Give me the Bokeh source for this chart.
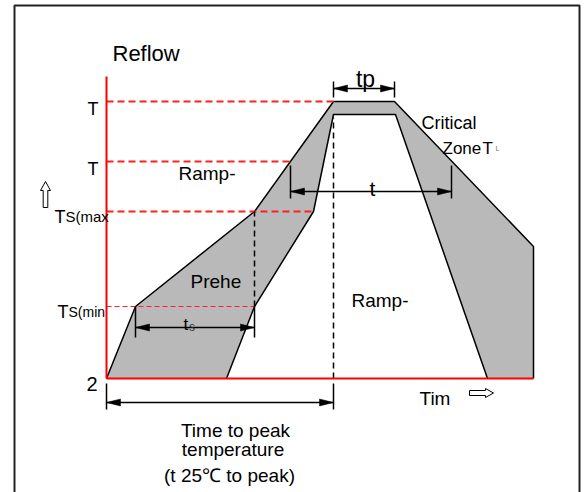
from bokeh.plotting import figure
from bokeh.models import Range1d
from bokeh.core.properties import value
from bokeh.embed import file_html
from bokeh.resources import INLINE

# ---- schematic data: time (x) and temperature above 25C (y) ----
T_peak = 277
T_peak_inner = 264
T_L = 217
Ts_max = 167
Ts_min = 72
time_end = 427
temp_top = 302

outer_time = [0, 29, 148, 227, 288, 427, 427]
outer_temp = [0, Ts_min, Ts_max, T_peak, T_peak, 132, 0]
inner_time = [120, 148, 207, 227, 289, 381]
inner_temp = [0, Ts_min, Ts_max, T_peak_inner, T_peak_inner, 0]

# red dashed temperature levels and where they stop
level_temps = [T_peak, T_L, Ts_max]
level_ends = [227, 184, 207]
tsmin_end = 148

# black dashed verticals
vdash_x = [148, 227]
vdash_y0 = [Ts_min, 0]
vdash_y1 = [Ts_max, T_peak_inner - 3]

# dimension arrows: start, end, level, tick bottom, tick top
dim_names = ["tp", "t", "ts", "time_to_peak"]
dim_x0 = [227, 184, 29, 0]
dim_x1 = [288, 345, 148, 227]
dim_y = [290, 187, 51, -24]
dim_tick_lo = [281, 180, 41, -31]
dim_tick_hi = [297, 213, 72, -5]

# hollow arrows (axis direction hints)
up_arrow_x = [-61, -56, -58.7, -58.7, -63.3, -63.3, -66]
up_arrow_y = [197, 188, 188, 171, 171, 188, 188]
right_arrow_x = [387, 379, 379, 363, 363, 379, 379]
right_arrow_y = [-14.5, -10, -12, -12, -17, -17, -19]

# frame
frame_x = [-92, -92, 473, 473]
frame_y = [-200, 373, 373, -200]

W, H = 584, 492
p = figure(width=W, height=H, output_backend="svg", toolbar_location=None,
           x_range=Range1d(-106, -106 + W), y_range=Range1d(378 - H, 378),
           min_border=0)
p.axis.visible = False
p.grid.visible = False
p.outline_line_color = None
p.background_fill_color = "white"

FONT = value("Liberation Sans")

# frame
p.line(frame_x, frame_y, line_color="#222222", line_width=2)

# gray band
band_x = outer_time + inner_time[::-1]
band_y = outer_temp + inner_temp[::-1]
p.patch(band_x, band_y, fill_color="#b9b9b9", line_color=None)
p.line(outer_time, outer_temp, line_color="black", line_width=1.5)
p.line(inner_time, inner_temp, line_color="black", line_width=1.5)

# red dashed levels
for t, e in zip(level_temps, level_ends):
    p.line([0, e], [t, t], line_color="#ff2020", line_width=1.8, line_dash="7 4")
p.line([0, tsmin_end], [Ts_min, Ts_min], line_color="#ff2020", line_width=1.2, line_dash="5 3")

# black dashed verticals
for x, a, b in zip(vdash_x, vdash_y0, vdash_y1):
    p.line([x, x], [a, b], line_color="black", line_width=1.5, line_dash="6 4")

# red axes
p.line([0, 0], [0, temp_top], line_color="red", line_width=2)
p.line([0, time_end], [0, 0], line_color="red", line_width=2)

# dimension arrows
L, hw = 14, 3.5
for x0, x1, y, lo, hi in zip(dim_x0, dim_x1, dim_y, dim_tick_lo, dim_tick_hi):
    p.line([x0, x1], [y, y], line_color="black", line_width=1.5)
    p.line([x0, x0], [lo, hi], line_color="black", line_width=1.5)
    p.line([x1, x1], [lo, hi], line_color="black", line_width=1.5)
    p.patch([x0, x0 + L, x0 + L], [y, y + hw, y - hw], fill_color="black", line_color="black", line_width=0.5)
    p.patch([x1, x1 - L, x1 - L], [y, y + hw, y - hw], fill_color="black", line_color="black", line_width=0.5)

# hollow arrows
p.patch(up_arrow_x, up_arrow_y, fill_color="white", line_color="black", line_width=1)
p.patch(right_arrow_x, right_arrow_y, fill_color="white", line_color="black", line_width=1)

def label(x, y, txt, size, align="left", color="black"):
    p.text(x=[x], y=[y], text=[txt], text_font=FONT, text_font_size=value(f"{size}px"),
           text_align=align, text_baseline="alphabetic", text_color=color)

label(6, 325, "Reflow", 22)
label(-8, 270, "T", 18, "right")
label(-8, 210, "T", 18, "right")
label(-52, 162, "T", 18)
label(-41, 162, "S(max", 15)
label(-49, 66.5, "T", 18)
label(-38, 66.5, "S(min", 14)
label(-9, -5, "2", 20, "right")
label(259, 300, "tp", 23, "center")
label(266, 190, "t", 21, "center")
label(77, 54, "t", 17)
label(82.5, 52, "s", 12, color="#333333")
label(72, 205, "Ramp-", 19)
label(84, 97, "Prehe", 19)
label(245, 78, "Ramp-", 19)
label(315, 256, "Critical", 18)
label(336, 230, "Zone", 17)
label(376, 230, "T", 17)
label(389, 230, "L", 7, color="#777777")
label(313, -20, "Tim", 19)
label(129, -52, "Time to peak", 19, "center")
label(126.5, -71, "temperature", 19, "center")
label(123, -97, "(t 25℃ to peak)", 19, "center")

open("out.html", "w").write(file_html(p, INLINE))
